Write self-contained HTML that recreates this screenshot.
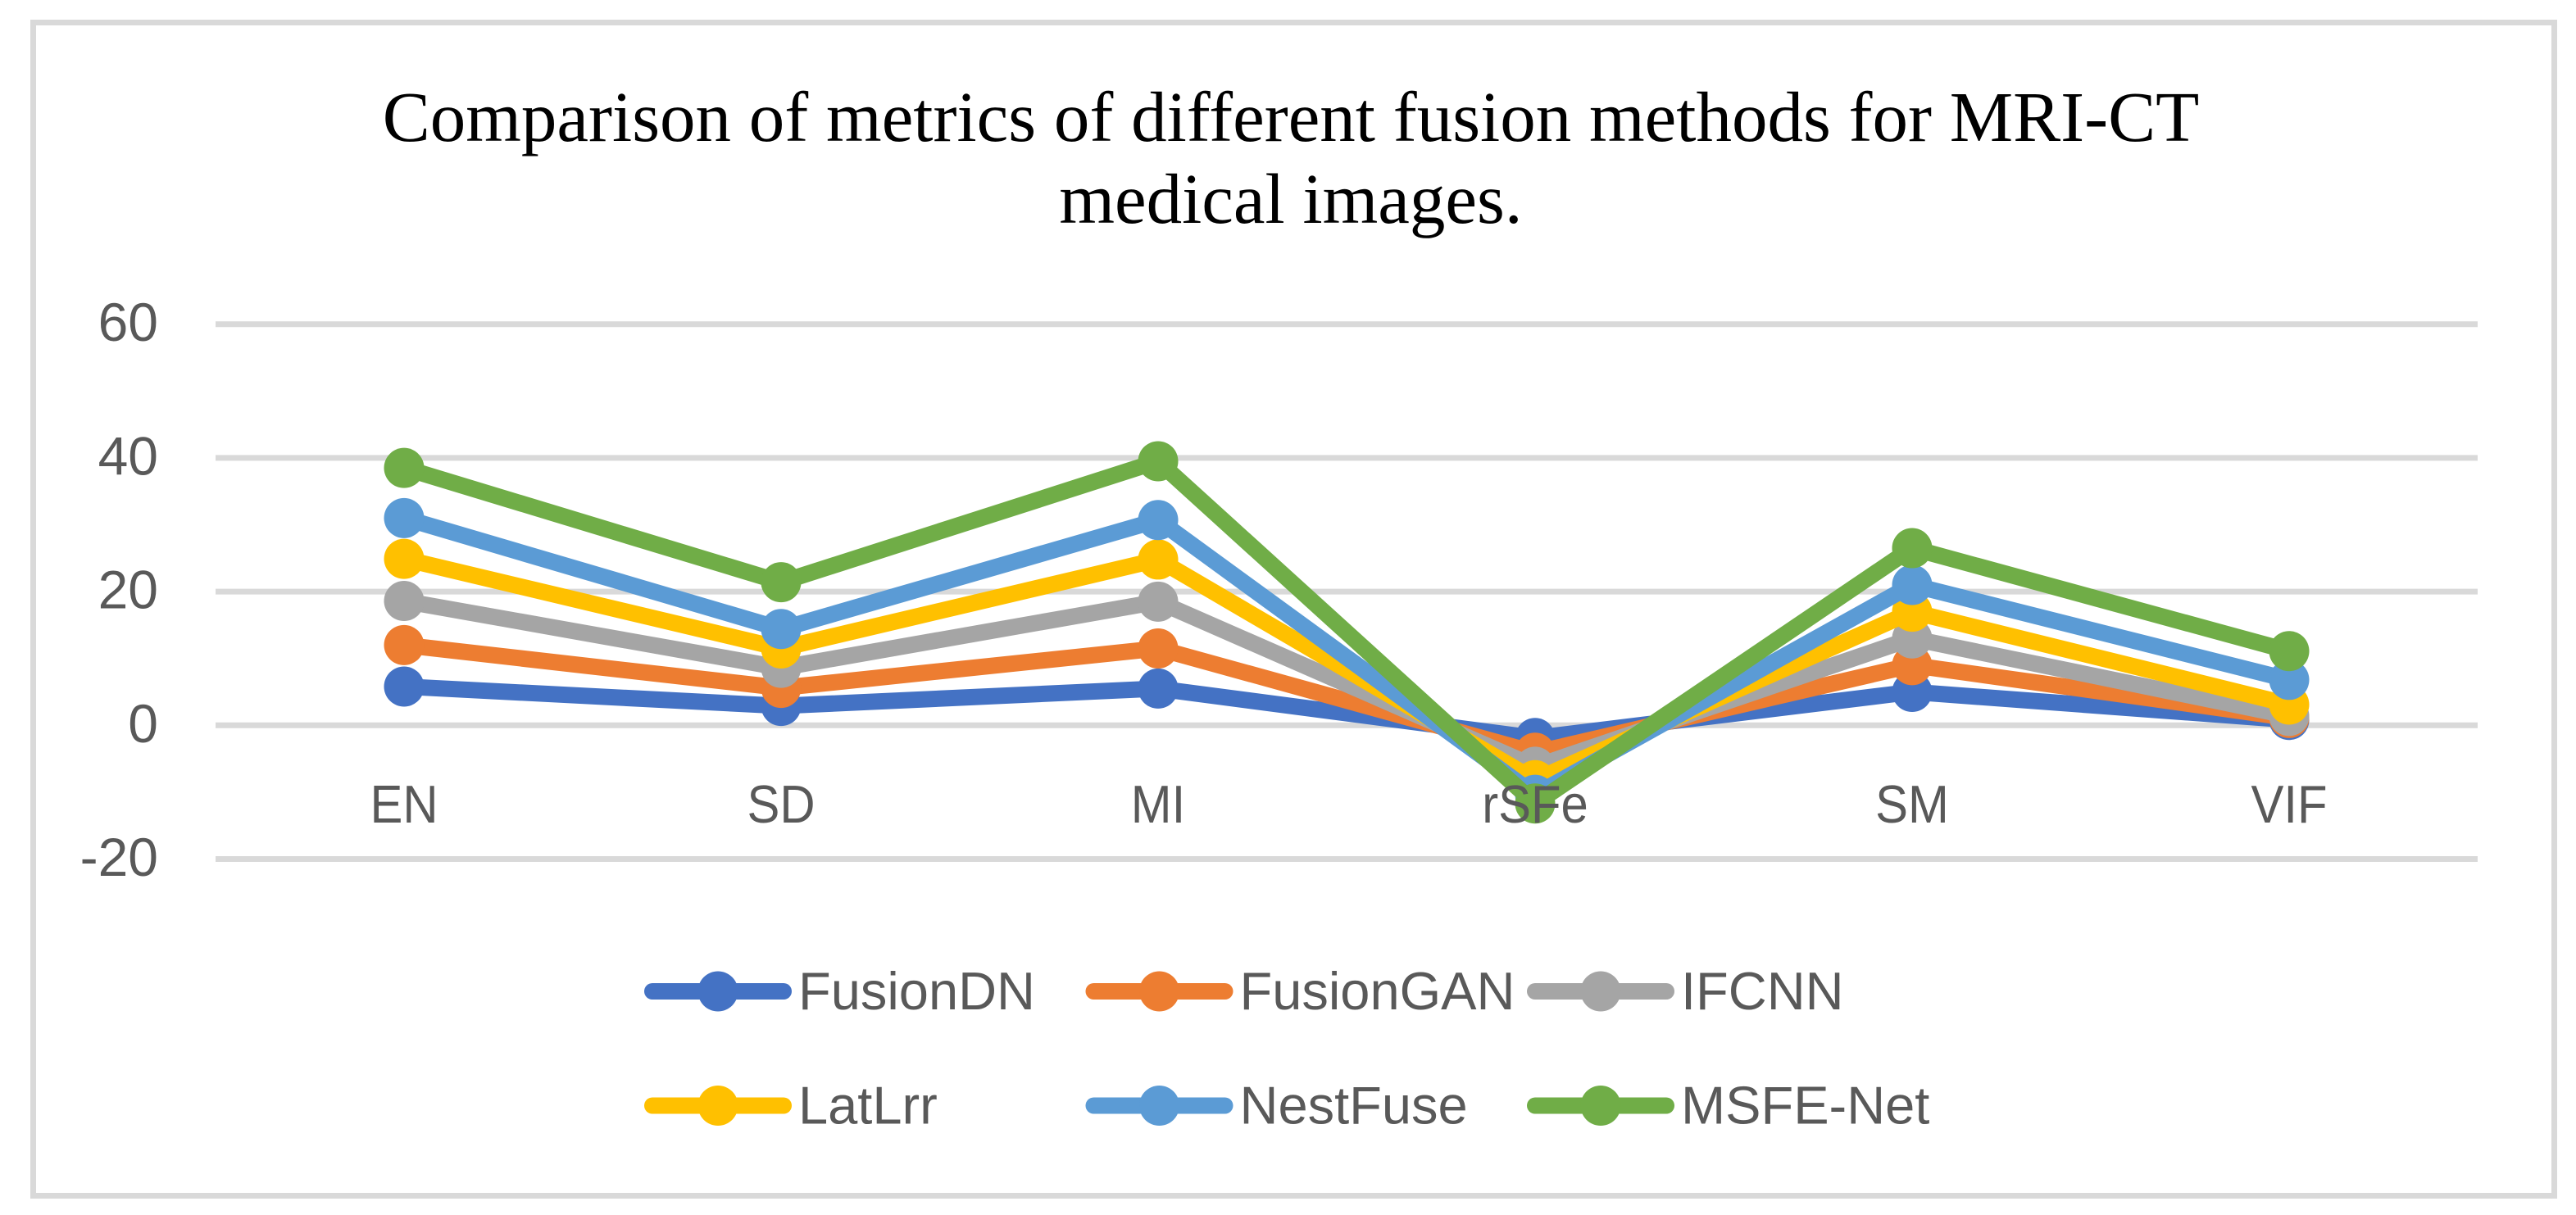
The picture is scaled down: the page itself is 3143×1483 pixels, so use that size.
<!DOCTYPE html>
<html><head><meta charset="utf-8"><title>Comparison of metrics</title>
<style>html,body{margin:0;padding:0;background:#fff;width:3143px;height:1483px;overflow:hidden}svg{display:block}</style></head>
<body>
<svg id="chart" xmlns="http://www.w3.org/2000/svg" width="3143" height="1483" viewBox="0 0 3143 1483">
<rect x="40.5" y="27.5" width="3076" height="1432" fill="#fff" stroke="#d9d9d9" stroke-width="7"/>
<text font-family="'Liberation Serif',serif" font-size="87" fill="#000" text-anchor="middle"><tspan x="1575" y="172">Comparison of metrics of different fusion methods for MRI-CT</tspan><tspan x="1575" y="272">medical images.</tspan></text>
<g id="grid"></g><g id="ylabels"></g><g id="series"></g><g id="xlabels"></g><g id="legend"></g>
</svg>
<script>
const categories = ['EN','SD','MI','rSFe','SM','VIF'];
const yTicks = [60,40,20,0,-20];
const seriesNames = ['FusionDN','FusionGAN','IFCNN','LatLrr','NestFuse','MSFE-Net'];
const seriesColors = ['#4472c4','#ed7d31','#a5a5a5','#ffc000','#5b9bd5','#70ad47'];
const fusionDN = [5.8,2.9,5.5,-1.9,5,0.8];
const fusionGAN = [12,5.6,11.5,-4.1,9,1.1];
const ifcnn = [18.6,8.6,18.5,-6.2,13,1.4];
const latLrr = [24.9,11.5,24.8,-8.2,17,3.1];
const nestFuse = [31,14.4,30.7,-10.4,21,6.8];
const msfeNet = [38.5,21.4,39.5,-11.7,26.5,11.1];
const seriesValues = [fusionDN,fusionGAN,ifcnn,latLrr,nestFuse,msfeNet];

const NS = 'http://www.w3.org/2000/svg';
const plotLeft = 263, plotRight = 3023, y0 = 885.3, pxPerUnit = 8.16;
function xScale(i){ return plotLeft + (plotRight-plotLeft)/categories.length*(i+0.5); }
function yScale(v){ return y0 - v*pxPerUnit; }
function mk(tag, attrs, parent, txt){
  const el = document.createElementNS(NS, tag);
  for (const k in attrs) el.setAttribute(k, attrs[k]);
  if (txt !== undefined) el.textContent = txt;
  parent.appendChild(el);
  return el;
}
const SANS = "'Liberation Sans',sans-serif";
const grid = document.getElementById('grid');
const ylabels = document.getElementById('ylabels');
const xlabels = document.getElementById('xlabels');
const seriesG = document.getElementById('series');
const legendG = document.getElementById('legend');

yTicks.forEach(function(t){
  const line = mk('line',{x1:plotLeft,x2:plotRight,y1:yScale(t),y2:yScale(t),stroke:'#d9d9d9','stroke-width':7},grid);
  
  
  const lab = mk('text',{x:193,y:yScale(t)+20.5,'font-family':SANS,'font-size':66,fill:'#595959','text-anchor':'end'},ylabels,String(t));
  
  
});
categories.forEach(function(c,i){
  const lab = mk('text',{transform:'translate('+xScale(i)+',1004) scale(0.92,1)','font-family':SANS,'font-size':65,fill:'#595959','text-anchor':'middle'},xlabels,c);
  
  
});
seriesValues.forEach(function(vals,s){
  const g = mk('g',{},seriesG);
  
  
  const pts = vals.map(function(v,i){ return xScale(i)+','+yScale(v); }).join(' ');
  const line = mk('polyline',{points:pts,fill:'none',stroke:seriesColors[s],'stroke-width':20,'stroke-linejoin':'round','stroke-linecap':'round'},g);
  
  
  vals.forEach(function(v,i){
    const dot = mk('circle',{cx:xScale(i),cy:yScale(v),r:24.5,fill:seriesColors[s]},g);
    
    
  });
});
seriesNames.forEach(function(n,s){
  const col = s%3, row = Math.floor(s/3);
  const lx = 786 + col*538.5, ly = 1210 + row*139.5;
  const g = mk('g',{},legendG);
  
  
  const l = mk('line',{x1:lx+10,x2:lx+170,y1:ly,y2:ly,stroke:seriesColors[s],'stroke-width':20,'stroke-linecap':'round'},g);
  
  
  const c = mk('circle',{cx:lx+90,cy:ly,r:24.5,fill:seriesColors[s]},g);
  
  
  const t = mk('text',{x:lx+188,y:ly+22,'font-family':SANS,'font-size':65,fill:'#595959'},g,n);
  
  
});
</script>
</body></html>
